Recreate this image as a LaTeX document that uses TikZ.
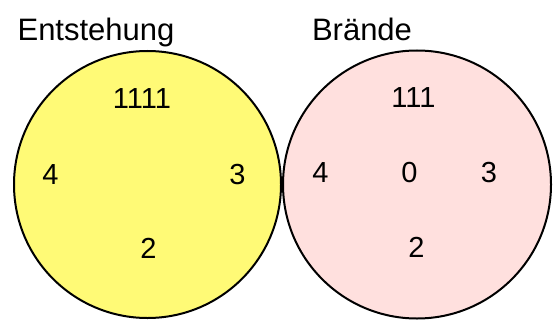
\documentclass[tikz,border=0pt]{standalone}
\usepackage{fontspec}
\setmainfont{Liberation Sans}
\definecolor{setyellow}{RGB}{255,250,118}
\definecolor{setpink}{RGB}{255,224,222}
\tikzset{
  title/.style={anchor=base, font=\fontsize{31}{36}\selectfont},
  count/.style={anchor=base, font=\fontsize{29}{34}\selectfont},
}

\begin{document}
\begin{tikzpicture}[x=1pt, y=-1pt]
  \useasboundingbox (0,0) rectangle (556,326);

  \draw [line width=2pt, fill=setyellow] (147.5,184.5) circle (133.5);
  \draw [line width=2pt, fill=setpink] (417,184.5) circle (134);

  \node [title] (entstehung) at (96,41) {Entstehung};
  \node [title] (braende) at (362,41) {Brände};

  % Entstehung
  \node [count] (e1) at (142,109) {1111};
  \node [count] (e4) at (50.5,184) {4};
  \node [count] (e3) at (237.5,184) {3};
  \node [count] (e2) at (148.5,258) {2};

  % Braende
  \node [count] (b1) at (413.5,107) {111};
  \node [count] (b4) at (320.5,182) {4};
  \node [count] (b0) at (409.5,182) {0};
  \node [count] (b3) at (489,182) {3};
  \node [count] (b2) at (416.5,257) {2};
\end{tikzpicture}
\end{document}
